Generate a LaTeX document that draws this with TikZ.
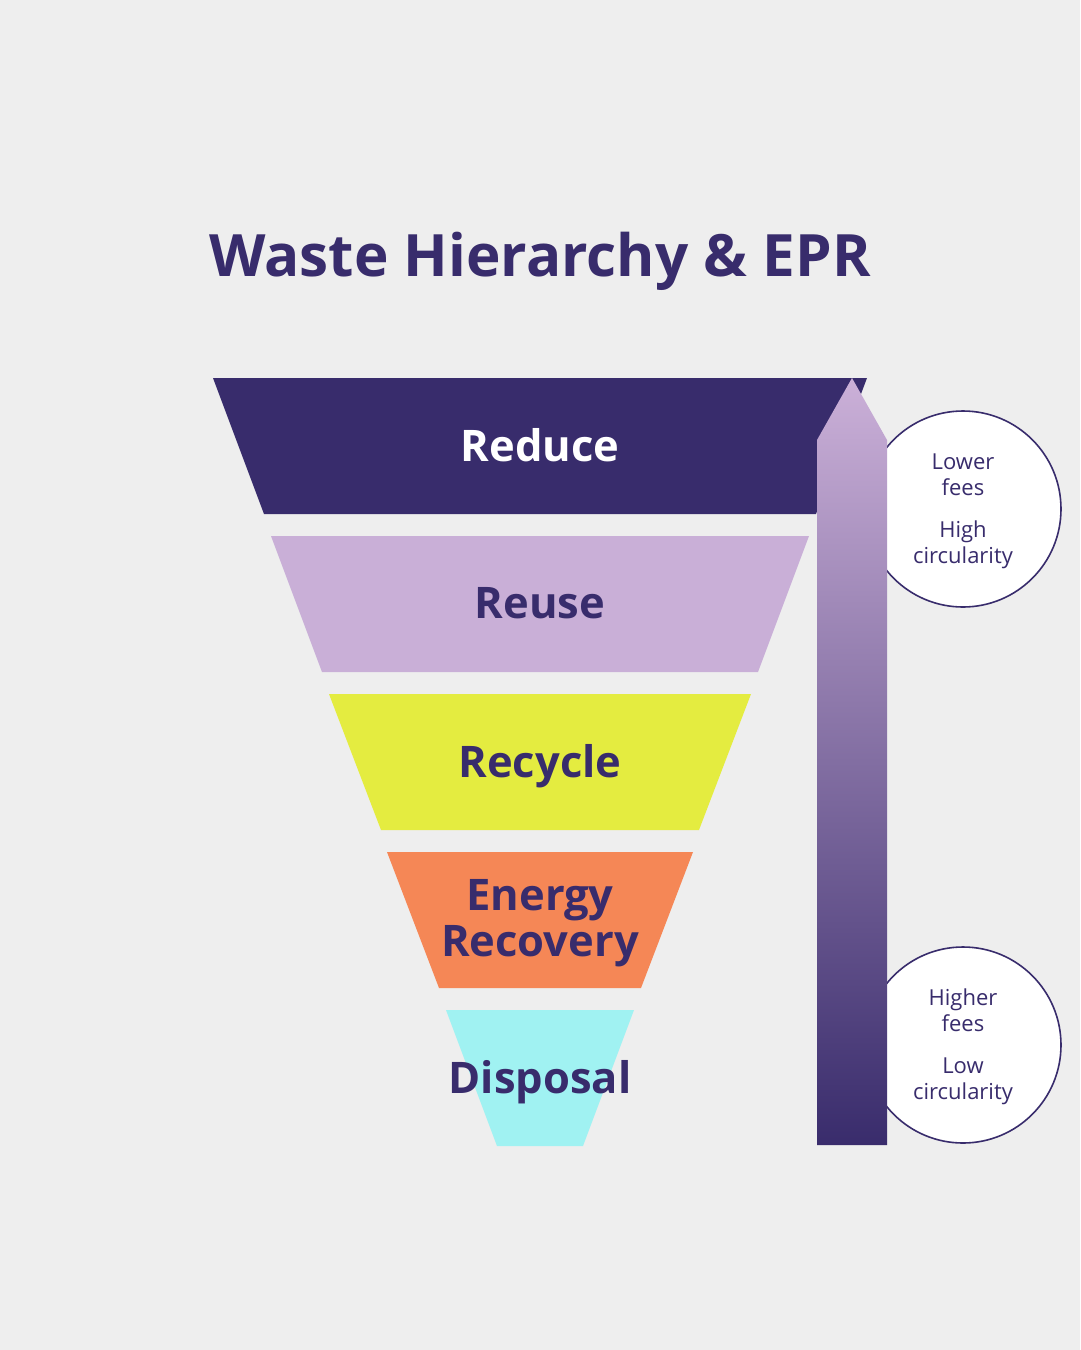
\documentclass[tikz,border=0pt]{standalone}
\usepackage{fontspec}
\setmainfont{Open Sans}
\newfontfamily\boldface{Open Sans}[UprightFont=* Bold]
\definecolor{bg}{HTML}{EEEEEE}
\definecolor{ink}{HTML}{382C6C}
\definecolor{reducec}{HTML}{382C6C}
\definecolor{reusec}{HTML}{C9AFD7}
\definecolor{recyclec}{HTML}{E4EC40}
\definecolor{energyc}{HTML}{F58756}
\definecolor{disposalc}{HTML}{A0F2F2}
\definecolor{arrowtop}{HTML}{CBB0D8}
\definecolor{arrowbot}{HTML}{392C6C}
\begin{document}
\begin{tikzpicture}[x=1pt,y=-1pt,
  levellabel/.style={font=\boldface\fontsize{43.5}{50}\selectfont, text=ink, align=center},
  sidecircle/.style={circle, draw=ink, line width=1.6pt, fill=white, minimum size=196pt, inner sep=0pt},
  sidetext/.style={font=\fontsize{22}{26}\selectfont, text=ink, align=center}]
\useasboundingbox[fill=bg] (0,0) rectangle (1080,1350);
% title
\node[font=\boldface\fontsize{58.4}{62}\selectfont, text=ink] (title) at (540,261) {Waste Hierarchy \& EPR};
% levels
\fill[reducec] (213,378) -- (867,378) -- (816,514) -- (264,514) -- cycle;
\fill[reusec] (271,536) -- (809,536) -- (758,672) -- (322,672) -- cycle;
\fill[recyclec] (329,694) -- (751,694) -- (699,830) -- (381,830) -- cycle;
\fill[energyc] (387,852) -- (693,852) -- (641,988) -- (439,988) -- cycle;
\fill[disposalc] (446,1010) -- (634,1010) -- (583,1146) -- (497,1146) -- cycle;
\node[levellabel, text=white] (reduce) at (540,445) {Reduce};
\node[levellabel] (reuse) at (540,603) {Reuse};
\node[levellabel] (recycle) at (540,766) {Recycle};
\node[levellabel] (energy) at (540,923) {Energy\\[-4pt]Recovery};
\node[levellabel] (disposal) at (540,1082) {Disposal};
% circles
\node[sidecircle] (low) at (963,509) {};
\node[sidecircle] (high) at (963,1045) {};
\node[sidetext] (lowtext) at (963,511) {Lower\\fees\\[16pt]High\\circularity};
\node[sidetext] (hightext) at (963,1047) {Higher\\fees\\[16pt]Low\\circularity};
% arrow
\shade[top color=arrowtop, bottom color=arrowbot]
  (817,1145) -- (817,440) -- (852,378) -- (887,440) -- (887,1145) -- cycle;
\end{tikzpicture}
\end{document}
